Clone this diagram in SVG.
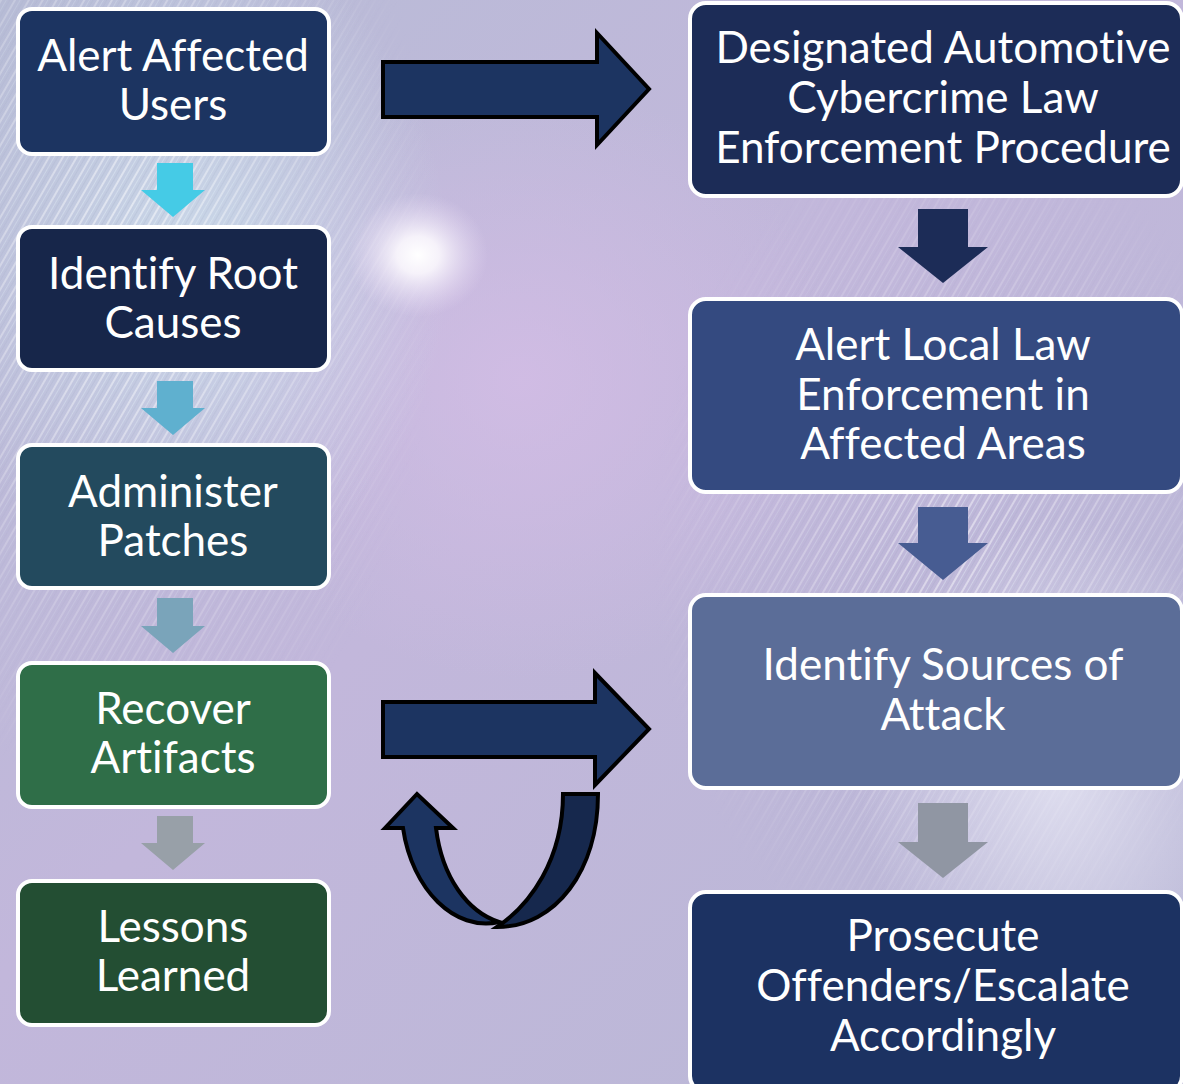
<svg xmlns="http://www.w3.org/2000/svg" width="1183" height="1084" viewBox="0 0 1183 1084">
<defs>
<linearGradient id="bg" x1="0" y1="0" x2="1" y2="1">
<stop offset="0" stop-color="#b7bcd6"/>
<stop offset="0.45" stop-color="#c2b7db"/>
<stop offset="1" stop-color="#b9b8d6"/>
</linearGradient>
<radialGradient id="glow" cx="0.5" cy="0.5" r="0.5">
<stop offset="0" stop-color="#ffffff" stop-opacity="1"/>
<stop offset="0.3" stop-color="#fbf8fd" stop-opacity="0.9"/>
<stop offset="1" stop-color="#e8dcf5" stop-opacity="0"/>
</radialGradient>
<radialGradient id="purp" cx="0.5" cy="0.5" r="0.5">
<stop offset="0" stop-color="#d4bde6" stop-opacity="0.8"/>
<stop offset="1" stop-color="#d4bde6" stop-opacity="0"/>
</radialGradient>
<radialGradient id="pale" cx="0.5" cy="0.5" r="0.5">
<stop offset="0" stop-color="#e6e6f4" stop-opacity="0.8"/>
<stop offset="1" stop-color="#e6e6f4" stop-opacity="0"/>
</radialGradient>
<radialGradient id="blue" cx="0.5" cy="0.5" r="0.5">
<stop offset="0" stop-color="#cfe2ee" stop-opacity="0.75"/>
<stop offset="1" stop-color="#cfe2ee" stop-opacity="0"/>
</radialGradient>
<pattern id="streaks" width="12" height="12" patternUnits="userSpaceOnUse" patternTransform="rotate(30)">
<rect x="0" y="0" width="2" height="12" fill="#ffffff" opacity="0.55"/>
<rect x="5" y="0" width="1" height="12" fill="#eaf6fb" opacity="0.45"/>
<rect x="8" y="0" width="1" height="12" fill="#8fa0b8" opacity="0.2"/>
</pattern>
<radialGradient id="fadeL" cx="0.25" cy="0.3" r="0.6">
<stop offset="0" stop-color="#fff" stop-opacity="1"/>
<stop offset="1" stop-color="#fff" stop-opacity="0"/>
</radialGradient>
<radialGradient id="fadeR" cx="0.6" cy="0.5" r="0.55">
<stop offset="0" stop-color="#fff" stop-opacity="0.9"/>
<stop offset="1" stop-color="#fff" stop-opacity="0"/>
</radialGradient>
<mask id="mL"><rect x="0" y="0" width="520" height="900" fill="url(#fadeL)"/></mask>
<mask id="mR"><rect x="620" y="150" width="563" height="800" fill="url(#fadeR)"/></mask>
</defs>
<style>
.box{stroke:#ffffff;stroke-width:4}
.lbl{font-family:Lato,"Open Sans","Liberation Sans",sans-serif;font-size:44px;fill:#ffffff;text-anchor:middle;font-variant-ligatures:none}
.blk{stroke:#000000;stroke-width:4;stroke-linejoin:miter}
</style>
<g id="background">
<rect width="1183" height="1084" fill="url(#bg)"/>
<ellipse cx="520" cy="380" rx="320" ry="300" fill="url(#purp)"/>
<ellipse cx="190" cy="260" rx="260" ry="330" fill="url(#blue)"/>
<rect x="0" y="0" width="520" height="900" fill="url(#streaks)" mask="url(#mL)"/>
<rect x="620" y="150" width="563" height="800" fill="url(#streaks)" mask="url(#mR)"/>
<ellipse cx="1060" cy="780" rx="200" ry="260" fill="url(#pale)"/>
<ellipse cx="418" cy="255" rx="70" ry="62" fill="url(#glow)"/>
</g>
<g id="connectors">
<polygon points="157,163 193,163 193,190 205,190 173,217 141,190 157,190" fill="#45cbe6"/>
<polygon points="157,381 193,381 193,408 205,408 173,435 141,408 157,408" fill="#5fb0cf"/>
<polygon points="157,598 193,598 193,626 205,626 173,653 141,626 157,626" fill="#7aa4ba"/>
<polygon points="157,816 193,816 193,843 205,843 173,870 141,843 157,843" fill="#98a0a8"/>
<polygon points="918,209 968,209 968,247 988,247 943,283 898,247 918,247" fill="#1c2c57"/>
<polygon points="918,507 968,507 968,543 988,543 943,580 898,543 918,543" fill="#475c92"/>
<polygon points="918,803 968,803 968,842 988,842 943,878 898,842 918,842" fill="#9096a3"/>
<polygon class="blk" points="383,62 597,62 597,33 649,89 597,145 597,117 383,117" fill="#1c3461"/>
<polygon class="blk" points="383,702 595,702 595,673 649,729 595,785 595,757 383,757" fill="#1c3461"/>
<path class="blk" d="M385,828 L417,794 L453,828 L436,828 C442,878 468,912 499,922 C455,932 412,890 403,828 Z" fill="#1c3461"/>
<path class="blk" d="M563,794 L598,794 C598,870 556,927 497,927 C530,905 563,860 563,794 Z" fill="#16284d"/>
</g>
<g id="n1"><rect class="box" x="18" y="9" width="311" height="145" rx="14" fill="#1c3461"/>
<text class="lbl" x="173" y="71">Alert Affected</text><text class="lbl" x="173" y="120">Users</text></g>
<g id="n2"><rect class="box" x="18" y="227" width="311" height="143" rx="14" fill="#17264a"/>
<text class="lbl" x="173" y="289">Identify Root</text><text class="lbl" x="173" y="338">Causes</text></g>
<g id="n3"><rect class="box" x="18" y="445" width="311" height="143" rx="14" fill="#234a5e"/>
<text class="lbl" x="173" y="507">Administer</text><text class="lbl" x="173" y="556">Patches</text></g>
<g id="n4"><rect class="box" x="18" y="663" width="311" height="144" rx="14" fill="#2f6e48"/>
<text class="lbl" x="173" y="724">Recover</text><text class="lbl" x="173" y="773">Artifacts</text></g>
<g id="n5"><rect class="box" x="18" y="881" width="311" height="144" rx="14" fill="#234e33"/>
<text class="lbl" x="173" y="942">Lessons</text><text class="lbl" x="173" y="991">Learned</text></g>
<g id="r1"><rect class="box" x="690" y="3" width="492" height="193" rx="16" fill="#1c2c57"/>
<text class="lbl" x="943" y="63">Designated Automotive</text><text class="lbl" x="943" y="113">Cybercrime Law</text><text class="lbl" x="943" y="163">Enforcement Procedure</text></g>
<g id="r2"><rect class="box" x="690" y="299" width="492" height="193" rx="16" fill="#344a80"/>
<text class="lbl" x="943" y="360">Alert Local Law</text><text class="lbl" x="943" y="410">Enforcement in</text><text class="lbl" x="943" y="459">Affected Areas</text></g>
<g id="r3"><rect class="box" x="690" y="595" width="492" height="193" rx="16" fill="#5b6d98"/>
<text class="lbl" x="943" y="680">Identify Sources of</text><text class="lbl" x="943" y="730">Attack</text></g>
<g id="r4"><rect class="box" x="690" y="892" width="492" height="200" rx="16" fill="#1c3262"/>
<text class="lbl" x="943" y="951">Prosecute</text><text class="lbl" x="943" y="1001">Offenders/Escalate</text><text class="lbl" x="943" y="1051">Accordingly</text></g>
</svg>
